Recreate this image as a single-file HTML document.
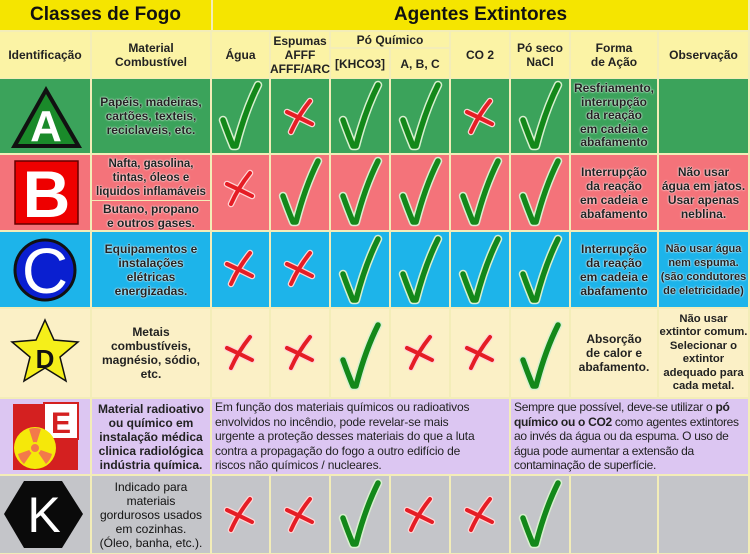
<!DOCTYPE html>
<html><head><meta charset="utf-8"><style>
body{margin:0;width:750px;height:554px;overflow:hidden;background:#f3edb8;font-family:"Liberation Sans",sans-serif;position:relative}
.c{position:absolute;display:flex;align-items:center;justify-content:center;text-align:center;font-weight:bold;font-size:12px;line-height:14px;color:#222;box-sizing:border-box}
.t{text-shadow:0 0 2px #fff,0 0 1px #fff}
.p{font-weight:normal;text-align:left;justify-content:flex-start;padding:0 3px;font-size:12px;line-height:14.5px;letter-spacing:-0.15px}
svg{position:absolute;left:0;top:0}
</style></head><body>
<div class="c" style="left:0;top:0;width:211px;height:30px;background:#f5e500;font-size:19px;color:#111">Classes de Fogo</div>
<div class="c" style="left:213px;top:0;width:535px;height:30px;background:#f5e500;font-size:19px;color:#111">Agentes Extintores</div>
<div class="c" style="left:0;top:32px;width:90px;height:46px;background:#fbf3a5">Identificação</div>
<div class="c" style="left:92px;top:32px;width:118px;height:46px;background:#fbf3a5">Material<br>Combustível</div>
<div class="c" style="left:212px;top:32px;width:57px;height:46px;background:#fbf3a5">Água</div>
<div class="c" style="left:271px;top:32px;width:58px;height:46px;background:#fbf3a5">Espumas<br>AFFF<br>AFFF/ARC</div>
<div class="c" style="left:331px;top:32px;width:118px;height:15px;background:#fbf3a5">Pó Químico</div>
<div class="c" style="left:331px;top:49px;width:58px;height:29px;background:#fbf3a5">[KHCO3]</div>
<div class="c" style="left:391px;top:49px;width:58px;height:29px;background:#fbf3a5">A, B, C</div>
<div class="c" style="left:451px;top:32px;width:58px;height:46px;background:#fbf3a5">CO 2</div>
<div class="c" style="left:511px;top:32px;width:58px;height:46px;background:#fbf3a5">Pó seco<br>NaCl</div>
<div class="c" style="left:571px;top:32px;width:86px;height:46px;background:#fbf3a5">Forma<br>de Ação</div>
<div class="c" style="left:659px;top:32px;width:89px;height:46px;background:#fbf3a5">Observação</div>

<div class="c" style="left:0;top:79px;width:90px;height:74px;background:#3ba35b"></div>
<div class="c t" style="left:92px;top:79px;width:118px;height:74px;background:#3ba35b">Papéis, madeiras,<br>cartões, texteis,<br>reciclaveis, etc.</div>
<div class="c" style="left:212px;top:79px;width:57px;height:74px;background:#3ba35b"></div>
<div class="c" style="left:271px;top:79px;width:58px;height:74px;background:#3ba35b"></div>
<div class="c" style="left:331px;top:79px;width:58px;height:74px;background:#3ba35b"></div>
<div class="c" style="left:391px;top:79px;width:58px;height:74px;background:#3ba35b"></div>
<div class="c" style="left:451px;top:79px;width:58px;height:74px;background:#3ba35b"></div>
<div class="c" style="left:511px;top:79px;width:58px;height:74px;background:#3ba35b"></div>
<div class="c t" style="left:571px;top:79px;width:86px;height:74px;background:#3ba35b;line-height:13.5px">Resfriamento,<br>interrupção<br>da reação<br>em cadeia e<br>abafamento</div>
<div class="c" style="left:659px;top:79px;width:89px;height:74px;background:#3ba35b"></div>

<div class="c" style="left:0;top:155px;width:90px;height:75px;background:#f4737a"></div>
<div class="c t" style="left:92px;top:155px;width:118px;height:45px;background:#f4737a;font-size:11.5px">Nafta, gasolina,<br>tintas, óleos e<br>liquidos inflamáveis</div>
<div class="c t" style="left:92px;top:201px;width:118px;height:29px;background:#f4737a">Butano, propano<br>e outros gases.</div>
<div class="c" style="left:212px;top:155px;width:57px;height:75px;background:#f4737a"></div>
<div class="c" style="left:271px;top:155px;width:58px;height:75px;background:#f4737a"></div>
<div class="c" style="left:331px;top:155px;width:58px;height:75px;background:#f4737a"></div>
<div class="c" style="left:391px;top:155px;width:58px;height:75px;background:#f4737a"></div>
<div class="c" style="left:451px;top:155px;width:58px;height:75px;background:#f4737a"></div>
<div class="c" style="left:511px;top:155px;width:58px;height:75px;background:#f4737a"></div>
<div class="c t" style="left:571px;top:155px;width:86px;height:75px;background:#f4737a">Interrupção<br>da reação<br>em cadeia e<br>abafamento</div>
<div class="c t" style="left:659px;top:155px;width:89px;height:75px;background:#f4737a">Não usar<br>água em jatos.<br>Usar apenas<br>neblina.</div>

<div class="c" style="left:0;top:232px;width:90px;height:75px;background:#1db4ea"></div>
<div class="c t" style="left:92px;top:232px;width:118px;height:75px;background:#1db4ea">Equipamentos e<br>instalações<br>elétricas<br>energizadas.</div>
<div class="c" style="left:212px;top:232px;width:57px;height:75px;background:#1db4ea"></div>
<div class="c" style="left:271px;top:232px;width:58px;height:75px;background:#1db4ea"></div>
<div class="c" style="left:331px;top:232px;width:58px;height:75px;background:#1db4ea"></div>
<div class="c" style="left:391px;top:232px;width:58px;height:75px;background:#1db4ea"></div>
<div class="c" style="left:451px;top:232px;width:58px;height:75px;background:#1db4ea"></div>
<div class="c" style="left:511px;top:232px;width:58px;height:75px;background:#1db4ea"></div>
<div class="c t" style="left:571px;top:232px;width:86px;height:75px;background:#1db4ea">Interrupção<br>da reação<br>em cadeia e<br>abafamento</div>
<div class="c t" style="left:659px;top:232px;width:89px;height:75px;background:#1db4ea;font-size:11px">Não usar água<br>nem espuma.<br>(são condutores<br>de eletricidade)</div>

<div class="c" style="left:0;top:309px;width:90px;height:88px;background:#fbf0c6"></div>
<div class="c" style="left:92px;top:309px;width:118px;height:88px;background:#fbf0c6">Metais<br>combustíveis,<br>magnésio, sódio,<br>etc.</div>
<div class="c" style="left:212px;top:309px;width:57px;height:88px;background:#fbf0c6"></div>
<div class="c" style="left:271px;top:309px;width:58px;height:88px;background:#fbf0c6"></div>
<div class="c" style="left:331px;top:309px;width:58px;height:88px;background:#fbf0c6"></div>
<div class="c" style="left:391px;top:309px;width:58px;height:88px;background:#fbf0c6"></div>
<div class="c" style="left:451px;top:309px;width:58px;height:88px;background:#fbf0c6"></div>
<div class="c" style="left:511px;top:309px;width:58px;height:88px;background:#fbf0c6"></div>
<div class="c" style="left:571px;top:309px;width:86px;height:88px;background:#fbf0c6">Absorção<br>de calor e<br>abafamento.</div>
<div class="c" style="left:659px;top:309px;width:89px;height:88px;background:#fbf0c6;font-size:11.3px;line-height:13.5px;white-space:nowrap">Não usar<br>extintor comum.<br>Selecionar o<br>extintor<br>adequado para<br>cada metal.</div>

<div class="c" style="left:0;top:399px;width:90px;height:75px;background:#dcc6f2"></div>
<div class="c" style="left:92px;top:399px;width:118px;height:75px;background:#dcc6f2;font-size:12px;white-space:nowrap">Material radioativo<br>ou químico em<br>instalação médica<br>clinica radiológica<br>indústria química.</div>
<div class="c p" style="left:212px;top:399px;width:297px;height:75px;background:#dcc6f2;white-space:nowrap"><span>Em função dos materiais químicos ou radioativos<br>envolvidos no incêndio, pode revelar-se mais<br>urgente a proteção desses materiais do que a luta<br>contra a propagação do fogo a outro edifício de<br>riscos não químicos / nucleares.</span></div>
<div class="c p" style="left:511px;top:399px;width:237px;height:75px;background:#dcc6f2;white-space:nowrap;letter-spacing:-0.3px"><span>Sempre que possível, deve-se utilizar o <b>pó</b><br><b>químico ou o CO2</b> como agentes extintores<br>ao invés da água ou da espuma. O uso de<br>água pode aumentar a extensão da<br>contaminação de superfície.</span></div>

<div class="c" style="left:0;top:476px;width:90px;height:77px;background:#c4c5c9"></div>
<div class="c" style="left:92px;top:476px;width:118px;height:77px;background:#c4c5c9;font-weight:normal;color:#111">Indicado para<br>materiais<br>gordurosos usados<br>em cozinhas.<br>(Óleo, banha, etc.).</div>
<div class="c" style="left:212px;top:476px;width:57px;height:77px;background:#c4c5c9"></div>
<div class="c" style="left:271px;top:476px;width:58px;height:77px;background:#c4c5c9"></div>
<div class="c" style="left:331px;top:476px;width:58px;height:77px;background:#c4c5c9"></div>
<div class="c" style="left:391px;top:476px;width:58px;height:77px;background:#c4c5c9"></div>
<div class="c" style="left:451px;top:476px;width:58px;height:77px;background:#c4c5c9"></div>
<div class="c" style="left:511px;top:476px;width:58px;height:77px;background:#c4c5c9"></div>
<div class="c" style="left:571px;top:476px;width:86px;height:77px;background:#c4c5c9"></div>
<div class="c" style="left:659px;top:476px;width:89px;height:77px;background:#c4c5c9"></div>

<svg width="750" height="554" viewBox="0 0 750 554">
<defs>
<g id="ck"><path d="M-17,4 Q-12,18 -7,30 L-4,30 Q5,-5 18,-31" fill="none" stroke="#d9f0d0" stroke-width="8.5" stroke-linecap="round" stroke-linejoin="round"/><path d="M-17,4 Q-12,18 -7,30 L-4,30 Q5,-5 18,-31" fill="none" stroke="#13881a" stroke-width="5.5" stroke-linecap="round" stroke-linejoin="round"/></g>
<g id="xx"><path d="M10,-15 Q-2,0 -9,16 M-13,-4 Q0,2 12,8" fill="none" stroke="#ffd6d6" stroke-width="6.5" stroke-linecap="round"/><path d="M10,-15 Q-2,0 -9,16 M-13,-4 Q0,2 12,8" fill="none" stroke="#e51d25" stroke-width="4" stroke-linecap="round"/></g>
</defs>
<use href="#ck" x="240" y="116"/><use href="#xx" x="300" y="116"/><use href="#ck" x="360" y="116"/><use href="#ck" x="420" y="116"/><use href="#xx" x="480" y="116"/><use href="#ck" x="540" y="116"/>
<use href="#xx" x="240" y="188"/><use href="#ck" x="300" y="192"/><use href="#ck" x="360" y="192"/><use href="#ck" x="420" y="192"/><use href="#ck" x="480" y="192"/><use href="#ck" x="540" y="192"/>
<use href="#xx" x="240" y="268"/><use href="#xx" x="300" y="268"/><use href="#ck" x="360" y="270"/><use href="#ck" x="420" y="270"/><use href="#ck" x="480" y="270"/><use href="#ck" x="540" y="270"/>
<use href="#xx" x="240" y="352"/><use href="#xx" x="300" y="352"/><use href="#ck" x="360" y="356"/><use href="#xx" x="420" y="352"/><use href="#xx" x="480" y="352"/><use href="#ck" x="540" y="356"/>
<use href="#xx" x="240" y="514"/><use href="#xx" x="300" y="514"/><use href="#ck" x="360" y="514"/><use href="#xx" x="420" y="514"/><use href="#xx" x="480" y="514"/><use href="#ck" x="540" y="514"/>

<polygon points="46,86 11,148 82,148" fill="#111"/>
<polygon points="46,94 18,144 75,144" fill="#1a8a2a"/>
<text x="46" y="141" text-anchor="middle" font-family="Liberation Sans" font-weight="bold" font-size="44" fill="#fff">A</text>
<rect x="15" y="161" width="63" height="63" fill="#e00" stroke="#600" stroke-width="1.5"/>
<text x="46.5" y="217" text-anchor="middle" font-family="Liberation Sans" font-weight="bold" font-size="66" fill="#fff">B</text>
<circle cx="45" cy="270" r="30" fill="#0a1fd0" stroke="#111" stroke-width="3"/>
<text x="45" y="293" text-anchor="middle" font-family="Liberation Sans" font-size="64" fill="#fff">C</text>
<polygon points="45,320 54,340 78,342 60,357 66,381 45,368 24,381 30,357 12,342 36,340" fill="#f5ef1a" stroke="#111" stroke-width="1.5"/>
<text x="45" y="368" text-anchor="middle" font-family="Liberation Sans" font-weight="bold" font-size="26" fill="#111">D</text>
<rect x="13" y="404" width="65" height="66" fill="#d42020"/>
<rect x="44" y="403" width="34" height="36" fill="#fff" stroke="#d42020" stroke-width="2"/>
<text x="61" y="433" text-anchor="middle" font-family="Liberation Sans" font-weight="bold" font-size="30" fill="#d42020">E</text>
<circle cx="35" cy="448" r="21" fill="#f5e80a"/>
<path d="M35,448 L29,429 A20,20 0 0 1 41,429 Z M35,448 L52,454 A20,20 0 0 1 46,464 Z M35,448 L24,464 A20,20 0 0 1 18,454 Z" fill="#f37a4a"/>
<circle cx="35" cy="448" r="5" fill="#f37a4a" stroke="#f5e80a" stroke-width="2"/>
<polygon points="24,481 62,481 83,514 62,548 24,548 4,514" fill="#0a0a0a"/>
<text x="44" y="532" text-anchor="middle" font-family="Liberation Sans" font-size="50" fill="#fff">K</text>
</svg>
</body></html>
